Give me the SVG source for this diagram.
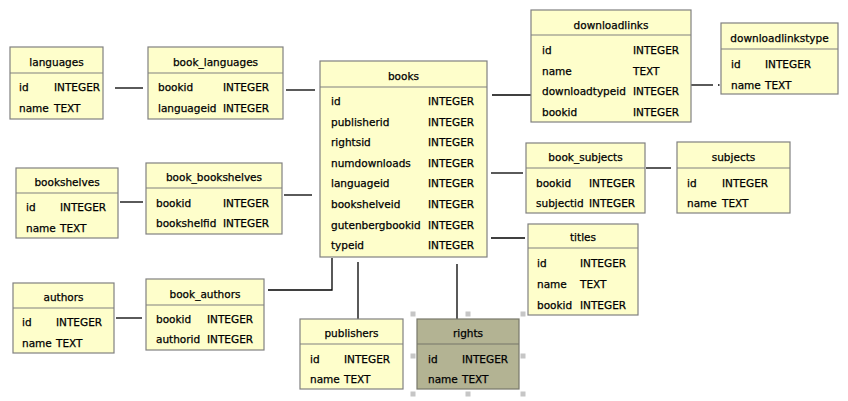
<svg xmlns="http://www.w3.org/2000/svg" width="848" height="401" viewBox="0 0 848 401">
<style>
.box{fill:#fefecb;stroke:#808080;stroke-width:1.2}
.sel{fill:#b3b393;stroke:#77776a;stroke-width:1.2}
.div{stroke:#808080;stroke-width:1.2}
.divs{stroke:#77776a;stroke-width:1.2}
text{font-family:"DejaVu Sans","Liberation Sans",sans-serif;font-size:10.5px;fill:#000;stroke:#000;stroke-width:0.25}
.t{text-anchor:middle}
.con line,.con polyline{stroke:#000;stroke-width:1.3;fill:none}
.h{fill:#c6c6c6}
</style>
<rect width="848" height="401" fill="#ffffff"/>
<g class="con" id="connectors">
<line x1="115" y1="88" x2="143" y2="88"/>
<line x1="286" y1="90" x2="315" y2="90"/>
<line x1="492" y1="95" x2="531" y2="95"/>
<line x1="691" y1="85" x2="713" y2="85"/>
<line x1="718" y1="85" x2="719.5" y2="85"/>
<line x1="120" y1="202" x2="143" y2="202"/>
<line x1="284" y1="195" x2="312" y2="195"/>
<line x1="491" y1="173" x2="523" y2="173"/>
<line x1="646" y1="168" x2="671" y2="168"/>
<line x1="491" y1="238" x2="525" y2="238"/>
<line x1="116" y1="318" x2="142" y2="318"/>
<polyline points="268,290 332,290 332,258"/>
<line x1="358" y1="262" x2="358" y2="319"/>
<line x1="457" y1="264" x2="457" y2="319"/>
</g>
<g id="languages">
<rect class="box" x="10" y="47" width="93" height="72"/>
<line class="div" x1="10" y1="73" x2="103" y2="73"/>
<text class="t" x="56.5" y="66">languages</text>
<text x="19" y="91">id</text><text x="54" y="91">INTEGER</text>
<text x="19" y="112">name</text><text x="54" y="112">TEXT</text>
</g>
<g id="book_languages">
<rect class="box" x="148" y="47" width="135" height="72"/>
<line class="div" x1="148" y1="73" x2="283" y2="73"/>
<text class="t" x="215.5" y="66">book_languages</text>
<text x="158" y="91">bookid</text><text x="223" y="91">INTEGER</text>
<text x="158" y="112">languageid</text><text x="223" y="112">INTEGER</text>
</g>
<g id="books">
<rect class="box" x="320" y="61" width="167" height="196"/>
<line class="div" x1="320" y1="87" x2="487" y2="87"/>
<text class="t" x="403.5" y="80">books</text>
<text x="331" y="105">id</text><text x="428" y="105">INTEGER</text>
<text x="331" y="125.6">publisherid</text><text x="428" y="125.6">INTEGER</text>
<text x="331" y="146.2">rightsid</text><text x="428" y="146.2">INTEGER</text>
<text x="331" y="166.8">numdownloads</text><text x="428" y="166.8">INTEGER</text>
<text x="331" y="187.4">languageid</text><text x="428" y="187.4">INTEGER</text>
<text x="331" y="208">bookshelveid</text><text x="428" y="208">INTEGER</text>
<text x="331" y="228.6">gutenbergbookid</text><text x="428" y="228.6">INTEGER</text>
<text x="331" y="249.2">typeid</text><text x="428" y="249.2">INTEGER</text>
</g>
<g id="downloadlinks">
<rect class="box" x="531" y="10" width="160" height="112"/>
<line class="div" x1="531" y1="35" x2="691" y2="35"/>
<text class="t" x="611" y="28.5">downloadlinks</text>
<text x="542" y="54">id</text><text x="633" y="54">INTEGER</text>
<text x="542" y="74.6">name</text><text x="633" y="74.6">TEXT</text>
<text x="542" y="95.2">downloadtypeid</text><text x="633" y="95.2">INTEGER</text>
<text x="542" y="115.8">bookid</text><text x="633" y="115.8">INTEGER</text>
</g>
<g id="downloadlinkstype">
<rect class="box" x="721" y="23" width="117" height="71"/>
<line class="div" x1="721" y1="49" x2="838" y2="49"/>
<text class="t" x="779.5" y="42">downloadlinkstype</text>
<text x="731" y="68">id</text><text x="765" y="68">INTEGER</text>
<text x="731" y="89">name</text><text x="765" y="89">TEXT</text>
</g>
<g id="bookshelves">
<rect class="box" x="16" y="168" width="102" height="70"/>
<line class="div" x1="16" y1="193" x2="118" y2="193"/>
<text class="t" x="67" y="186">bookshelves</text>
<text x="26" y="211">id</text><text x="60" y="211">INTEGER</text>
<text x="26" y="232">name</text><text x="60" y="232">TEXT</text>
</g>
<g id="book_bookshelves">
<rect class="box" x="146" y="163" width="136" height="71"/>
<line class="div" x1="146" y1="188" x2="282" y2="188"/>
<text class="t" x="214" y="181">book_bookshelves</text>
<text x="156" y="207">bookid</text><text x="223" y="207">INTEGER</text>
<text x="156" y="227">bookshelfid</text><text x="223" y="227">INTEGER</text>
</g>
<g id="authors">
<rect class="box" x="13" y="283" width="101" height="70"/>
<line class="div" x1="13" y1="308" x2="114" y2="308"/>
<text class="t" x="63.5" y="301">authors</text>
<text x="22" y="326">id</text><text x="56" y="326">INTEGER</text>
<text x="22" y="347">name</text><text x="56" y="347">TEXT</text>
</g>
<g id="book_authors">
<rect class="box" x="146" y="279" width="118" height="71"/>
<line class="div" x1="146" y1="305" x2="264" y2="305"/>
<text class="t" x="205" y="298">book_authors</text>
<text x="156" y="323">bookid</text><text x="207" y="323">INTEGER</text>
<text x="156" y="343">authorid</text><text x="207" y="343">INTEGER</text>
</g>
<g id="book_subjects">
<rect class="box" x="526" y="143" width="119" height="70"/>
<line class="div" x1="526" y1="168" x2="645" y2="168"/>
<text class="t" x="585.5" y="161">book_subjects</text>
<text x="536" y="187">bookid</text><text x="589" y="187">INTEGER</text>
<text x="536" y="207">subjectid</text><text x="589" y="207">INTEGER</text>
</g>
<g id="subjects">
<rect class="box" x="677" y="142" width="113" height="71"/>
<line class="div" x1="677" y1="168" x2="790" y2="168"/>
<text class="t" x="733.5" y="161">subjects</text>
<text x="687" y="187">id</text><text x="722" y="187">INTEGER</text>
<text x="687" y="207">name</text><text x="722" y="207">TEXT</text>
</g>
<g id="titles">
<rect class="box" x="528" y="224" width="110" height="91"/>
<line class="div" x1="528" y1="248" x2="638" y2="248"/>
<text class="t" x="583" y="241">titles</text>
<text x="537" y="267">id</text><text x="580" y="267">INTEGER</text>
<text x="537" y="288">name</text><text x="580" y="288">TEXT</text>
<text x="537" y="309">bookid</text><text x="580" y="309">INTEGER</text>
</g>
<g id="publishers">
<rect class="box" x="300" y="319" width="103" height="70"/>
<line class="div" x1="300" y1="344" x2="403" y2="344"/>
<text class="t" x="351.5" y="337">publishers</text>
<text x="310" y="363">id</text><text x="344" y="363">INTEGER</text>
<text x="310" y="383">name</text><text x="344" y="383">TEXT</text>
</g>
<g id="rights">
<rect class="sel" x="417" y="319" width="102" height="70"/>
<line class="divs" x1="417" y1="344" x2="519" y2="344"/>
<text class="t" x="468" y="337">rights</text>
<text x="428" y="363">id</text><text x="462" y="363">INTEGER</text>
<text x="428" y="383">name</text><text x="462" y="383">TEXT</text>
<rect class="h" x="410.5" y="311.5" width="5" height="5"/>
<rect class="h" x="465.5" y="311.5" width="5" height="5"/>
<rect class="h" x="520.5" y="311.5" width="5" height="5"/>
<rect class="h" x="410.5" y="353.5" width="5" height="5"/>
<rect class="h" x="520.5" y="353.5" width="5" height="5"/>
<rect class="h" x="410.5" y="391.5" width="5" height="5"/>
<rect class="h" x="465.5" y="391.5" width="5" height="5"/>
<rect class="h" x="520.5" y="391.5" width="5" height="5"/>
</g>
</svg>
